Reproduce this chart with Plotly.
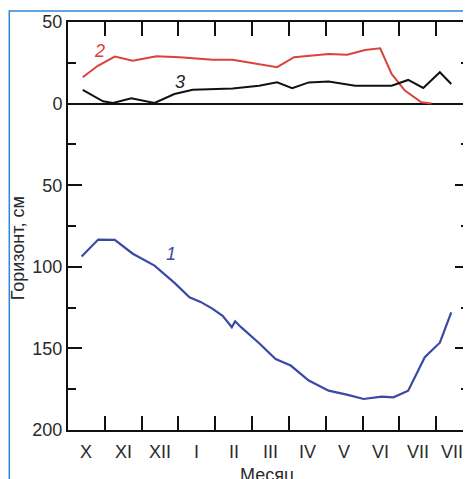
import plotly.graph_objects as go

# ---------------- data (x = months since 1 October, y = cm) ----------------
months = ["X", "XI", "XII", "I", "II", "III", "IV", "V", "VI", "VII", "VIII"]
month_centers = [0.5, 1.5, 2.5, 3.5, 4.5, 5.5, 6.5, 7.5, 8.5, 9.5, 10.5]
month_bounds = [1, 2, 3, 4, 5, 6, 7, 8, 9, 10]

y_tickvals = [-50, 0, 50, 100, 150, 200]
y_ticktext = ["50", "0", "50", "100", "150", "200"]
y_minor = [-25, 25, 75, 125, 175]

x1 = [0.37, 0.82, 1.27, 1.76, 2.35, 2.9, 3.3, 3.6, 3.92, 4.2, 4.45, 4.54, 4.7, 5.2,
      5.64, 6.05, 6.54, 7.08, 7.6, 8.03, 8.52, 8.84, 9.24, 9.69, 10.1, 10.41]
y1 = [93.7, 83.3, 83.5, 92, 99.3, 110, 118.7, 121.5, 125.6, 130, 137, 133.4, 137, 147,
      156.5, 160.5, 169.7, 175.9, 178.5, 181, 179.5, 180, 175.9, 155.4, 146.5, 127.9]

x2 = [0.40, 0.8, 1.27, 1.76, 2.40, 3.03, 3.93, 4.47, 5.68, 6.14, 7.08, 7.58, 8.07,
      8.48, 8.79, 9.15, 9.6, 9.87]
y2 = [-16.1, -23, -28.8, -26.3, -29, -28.4, -26.8, -26.8, -22.3, -28.4, -30.4, -30,
      -32.9, -33.9, -18.2, -8, -0.8, 0]

x3 = [0.40, 0.95, 1.22, 1.72, 2.35, 2.89, 3.39, 4.47, 5.19, 5.68, 6.09, 6.54, 7.08,
      7.8, 8.79, 9.24, 9.65, 10.1, 10.41]
y3 = [-8.4, -1.4, -0.4, -3.3, -0.4, -5.9, -8.5, -9.3, -11, -13, -9.4, -13, -13.5,
      -11, -11, -14.5, -9.6, -19.2, -12]

FONT = "Arial, Liberation Sans, sans-serif"
XR = [0, 10.892]
YR = [200, -50]

fig = go.Figure()
fig.add_trace(go.Scatter(x=x1, y=y1, mode="lines", line=dict(color="#3b49a6", width=2.2),
                         showlegend=False, hoverinfo="skip"))
fig.add_trace(go.Scatter(x=x2, y=y2, mode="lines", line=dict(color="#d8433a", width=2),
                         showlegend=False, hoverinfo="skip"))
fig.add_trace(go.Scatter(x=x3, y=y3, mode="lines", line=dict(color="#111111", width=2),
                         showlegend=False, hoverinfo="skip"))

fig.update_layout(
    width=463, height=471, autosize=False,
    margin=dict(l=60, r=0, t=14, b=49),
    paper_bgcolor="white", plot_bgcolor="white",
    font=dict(family=FONT, size=18, color="#2a2a2a"),
    xaxis=dict(range=XR, tickmode="array", tickvals=month_bounds, showticklabels=False,
               ticks="inside", ticklen=14, tickwidth=2, tickcolor="#111",
               showline=True, linecolor="#111", linewidth=2, mirror="ticks",
               showgrid=False, zeroline=False),
    yaxis=dict(range=YR, tickmode="array", tickvals=y_tickvals, ticktext=y_ticktext,
               ticks="inside", ticklen=14, tickwidth=2, tickcolor="#111",
               minor=dict(tickmode="array", tickvals=y_minor, ticks="inside",
                          ticklen=8, tickwidth=2, tickcolor="#111"),
               showline=True, linecolor="#111", linewidth=2, mirror="allticks",
               showgrid=False, zeroline=True, zerolinecolor="#111", zerolinewidth=2,
               tickfont=dict(size=18, color="#2a2a2a")),
)

# month names centred between the boundary ticks
for m, c in zip(months, month_centers):
    fig.add_annotation(text=m, x=c, y=-0.025, xref="x", yref="paper",
                       xanchor="center", yanchor="top", showarrow=False,
                       font=dict(size=18, color="#2a2a2a"))

fig.add_annotation(text="<i>1</i>", x=2.80, y=92, xref="x", yref="y", showarrow=False,
                   font=dict(size=18, color="#3b49a6"))
fig.add_annotation(text="<i>2</i>", x=0.86, y=-32.5, xref="x", yref="y", showarrow=False,
                   font=dict(size=18, color="#d8433a"))
fig.add_annotation(text="<i>3</i>", x=3.03, y=-13, xref="x", yref="y", showarrow=False,
                   font=dict(size=18, color="#222"))

fig.add_annotation(text="Горизонт, см", textangle=-90, x=-0.124, y=0.446,
                   xref="paper", yref="paper", xanchor="center", yanchor="middle",
                   showarrow=False, font=dict(size=18, color="#2a2a2a"))
fig.add_annotation(text="Месяц", x=0.496, y=-0.081, xref="paper", yref="paper",
                   xanchor="center", yanchor="top", showarrow=False,
                   font=dict(size=18, color="#2a2a2a"))

# light-blue frame around the figure
fig.add_shape(type="rect", xref="paper", yref="paper",
              x0=-0.1464, x1=1.2, y0=-0.3, y1=1.027,
              line=dict(color="#2f86d6", width=1.5), fillcolor="rgba(0,0,0,0)",
              layer="below")

fig.write_html("out.html")
